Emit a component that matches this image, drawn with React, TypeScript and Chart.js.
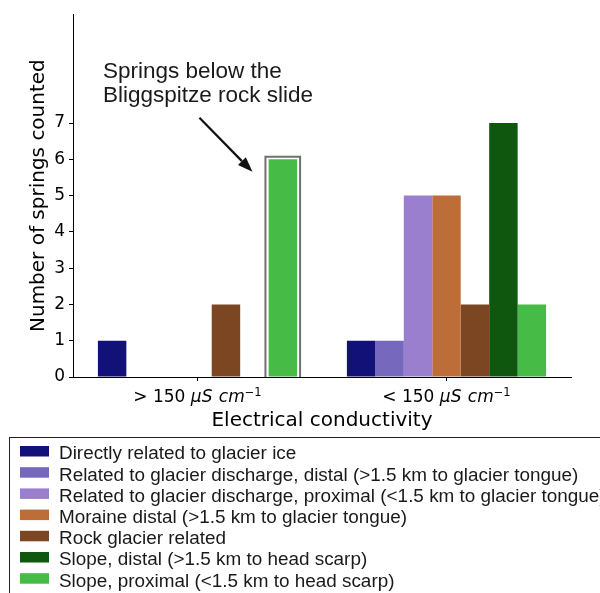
import React, { useEffect, useRef } from "react";
import { Chart, registerables } from "chart.js";

Chart.register(...registerables);

const categories = ["> 150", "< 150"];
const unitText = ["μS", "cm"];
const unitExp = "−1";
const seriesNames = [
  "Directly related to glacier ice",
  "Related to glacier discharge, distal (>1.5 km to glacier tongue)",
  "Related to glacier discharge, proximal (<1.5 km to glacier tongue)",
  "Moraine distal (>1.5 km to glacier tongue)",
  "Rock glacier related",
  "Slope, distal (>1.5 km to head scarp)",
  "Slope, proximal (<1.5 km to head scarp)",
];
const glacierIce = [1, 1];
const dischargeDistal = [0, 1];
const dischargeProximal = [0, 5];
const moraineDistal = [0, 5];
const rockGlacier = [2, 2];
const slopeDistal = [0, 7];
const slopeProximal = [6, 2];
const seriesValues = [
  glacierIce,
  dischargeDistal,
  dischargeProximal,
  moraineDistal,
  rockGlacier,
  slopeDistal,
  slopeProximal,
];
const colors = ["#111178", "#7669bd", "#9a7fce", "#bc6d38", "#7d4622", "#0f570f", "#46bb46"];
const yTickMax = 7;
const yMax = 10;
const annotationLines = ["Springs below the", "Bliggspitze rock slide"];
const yTitle = "Number of springs counted";
const xTitle = "Electrical conductivity";

const overlay = {
  id: "overlay",
  afterDraw(chart: any) {
    const ctx = chart.ctx as CanvasRenderingContext2D;
    const xs = chart.scales.x;
    const ca = chart.chartArea;
    ctx.save();
    ctx.fillStyle = "#000";
    ctx.textBaseline = "alphabetic";
    // x tick labels with math-style unit
    categories.forEach((c, i) => {
      const cx = xs.getPixelForValue(i);
      const parts = [
        { t: c + " ", f: '17px "DejaVu Sans"', dy: 0 },
        { t: unitText[0], f: 'italic 17px "DejaVu Sans"', dy: 0 },
        { t: " ", f: '20px "DejaVu Sans"', dy: 0 },
        { t: unitText[1], f: 'italic 17px "DejaVu Sans"', dy: 0 },
        { t: unitExp, f: '11.5px "DejaVu Sans"', dy: -6.5 },
      ];
      let total = 0;
      const ws = parts.map((p) => {
        ctx.font = p.f;
        const w = ctx.measureText(p.t).width;
        total += w;
        return w;
      });
      let x = cx - total / 2;
      ctx.textAlign = "left";
      parts.forEach((p, k) => {
        ctx.font = p.f;
        ctx.fillText(p.t, x, 402 + p.dy);
        x += ws[k];
      });
    });
    // x title
    ctx.font = '20px "DejaVu Sans"';
    ctx.textAlign = "center";
    ctx.fillText(xTitle, (ca.left + ca.right) / 2, 426);
    // y title
    ctx.save();
    ctx.translate(44, (ca.top + ca.bottom) / 2);
    ctx.rotate(-Math.PI / 2);
    ctx.fillText(yTitle, 0, 0);
    ctx.restore();

    // annotation box around highlighted bar
    const bar = chart.getDatasetMeta(6).data[0];
    if (bar) {
      const bl = bar.x - bar.width / 2 - 3.2;
      const br = bar.x + bar.width / 2 + 3;
      const bt = bar.y - 2.5;
      ctx.strokeStyle = "#707070";
      ctx.lineWidth = 2;
      ctx.beginPath();
      ctx.moveTo(bl, ca.bottom);
      ctx.lineTo(bl, bt);
      ctx.lineTo(br, bt);
      ctx.lineTo(br, ca.bottom);
      ctx.stroke();
      // arrow
      const tipX = bl - 13;
      const tipY = bt + 15;
      const sX = bl - 66;
      const sY = bt - 39;
      const ang = Math.atan2(tipY - sY, tipX - sX);
      const hl = 15;
      const hw = 5.5;
      const baseX = tipX - hl * Math.cos(ang);
      const baseY = tipY - hl * Math.sin(ang);
      ctx.strokeStyle = "#111";
      ctx.lineWidth = 2.2;
      ctx.beginPath();
      ctx.moveTo(sX, sY);
      ctx.lineTo(baseX, baseY);
      ctx.stroke();
      ctx.fillStyle = "#111";
      ctx.beginPath();
      ctx.moveTo(tipX, tipY);
      ctx.lineTo(baseX + hw * Math.sin(ang), baseY - hw * Math.cos(ang));
      ctx.lineTo(baseX - hw * Math.sin(ang), baseY + hw * Math.cos(ang));
      ctx.closePath();
      ctx.fill();
      // text
      ctx.fillStyle = "#1a1a1a";
      ctx.font = '22.5px "Liberation Sans", Arial, sans-serif';
      ctx.textAlign = "left";
      ctx.fillText(annotationLines[0], bl - 162.5, bt - 78.5);
      ctx.fillText(annotationLines[1], bl - 162.5, bt - 55.3);
    }

    // legend
    ctx.strokeStyle = "#222";
    ctx.lineWidth = 1;
    ctx.strokeRect(9.5, 437.5, 700, 300);
    ctx.font = '18.9px "Liberation Sans", Arial, sans-serif';
    ctx.textAlign = "left";
    chart.data.datasets.forEach((ds: any, i: number) => {
      const top = 446 + i * 21.2;
      ctx.fillStyle = ds.backgroundColor;
      ctx.fillRect(20, top, 29, 10.5);
      ctx.fillStyle = "#1a1a1a";
      ctx.fillText(ds.label, 59, top + 13.3);
    });
    ctx.restore();
  },
};

export default function App() {
  const ref = useRef<HTMLCanvasElement>(null);
  useEffect(() => {
    document.body.style.margin = "0";
    const chart = new Chart(ref.current as HTMLCanvasElement, {
      type: "bar",
      data: {
        labels: categories,
        datasets: seriesValues.map((v, i) => ({
          label: seriesNames[i],
          data: v,
          backgroundColor: colors[i],
          borderWidth: 0,
          barPercentage: 1,
          categoryPercentage: 0.8,
        })),
      },
      options: {
        responsive: false,
        animation: false,
        layout: { padding: { top: 6, right: 29, bottom: 156, left: 0 } },
        plugins: { legend: { display: false }, tooltip: { enabled: false } },
        scales: {
          x: {
            grid: { drawOnChartArea: false, offset: false, tickLength: 4, color: "#000" },
            border: { color: "#000", width: 1 },
            ticks: { display: false },
            afterFit: (s: any) => {
              s.height = 60;
            },
          },
          y: {
            min: 0,
            max: yMax,
            grid: { drawOnChartArea: false, tickLength: 4, color: "#000" },
            border: { color: "#000", width: 1 },
            ticks: {
              stepSize: 1,
              color: "#000",
              padding: 4,
              font: { family: "DejaVu Sans", size: 17 },
            },
            afterBuildTicks: (s: any) => {
              s.ticks = s.ticks.filter((t: any) => t.value <= yTickMax);
            },
            afterFit: (s: any) => {
              s.width = 73;
            },
          },
        },
      },
      plugins: [overlay],
    });
    return () => chart.destroy();
  }, []);
  return (
    <div style={{ width: 600, height: 593 }}>
      <canvas ref={ref} width={600} height={593} />
    </div>
  );
}
